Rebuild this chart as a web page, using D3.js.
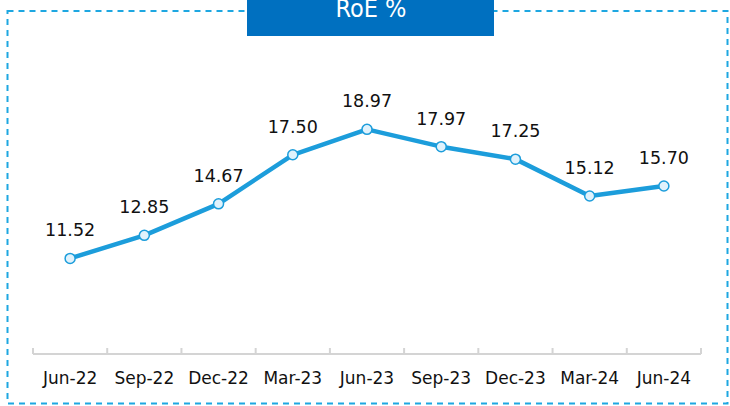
<!DOCTYPE html>
<meta charset="utf-8">
<html>
<head>
	<script src="https://cdn.jsdelivr.net/npm/d3@7"></script>
	<style>
		body { margin: 0; background: #fff; }
		text { font-family: "DejaVu Sans", Verdana, sans-serif; }
	</style>
</head>
<body>
	<svg id="chart" width="730" height="406"></svg>
	<script>
		var quarters = ["Jun-22","Sep-22","Dec-22","Mar-23","Jun-23","Sep-23","Dec-23","Mar-24","Jun-24"];
		var roe = [11.52, 12.85, 14.67, 17.50, 18.97, 17.97, 17.25, 15.12, 15.70];
		var title = "RoE %";

		var svg = d3.select("#chart");

		// dashed frame
		svg.append("rect")
			.attr("x", 7.5).attr("y", 11)
			.attr("width", 720).attr("height", 392.5)
			.attr("fill", "none")
			.attr("stroke", "#1ea7e1")
			.attr("stroke-width", 2)
			.attr("stroke-dasharray", "6,5");

		// title box
		svg.append("rect")
			.attr("x", 247).attr("y", -2)
			.attr("width", 247).attr("height", 38)
			.attr("fill", "#0070c0");
		svg.append("text")
			.attr("x", 371).attr("y", 17)
			.attr("text-anchor", "middle")
			.attr("fill", "#fff")
			.attr("font-size", 25)
			.style("font-family", "'DejaVu Sans Condensed', 'DejaVu Sans', sans-serif")
			.style("font-stretch", "condensed")
			.text(title);

		var x = d3.scaleBand()
			.domain(quarters)
			.range([33, 701]);

		var y = d3.scaleLinear()
			.domain([6, 20])
			.range([354, 111.5]);

		// axis
		var axisY = 354;
		svg.append("line")
			.attr("x1", 33).attr("x2", 701)
			.attr("y1", axisY).attr("y2", axisY)
			.attr("stroke", "#d4d4d4").attr("stroke-width", 2);

		var edges = quarters.map(function(d) { return x(d); }).concat([x.range()[1]]);
		svg.selectAll(".tick")
			.data(edges)
			.enter().append("line")
				.attr("class", "tick")
				.attr("x1", function(d) { return d; })
				.attr("x2", function(d) { return d; })
				.attr("y1", axisY - 6).attr("y2", axisY)
				.attr("stroke", "#d4d4d4").attr("stroke-width", 2);

		svg.selectAll(".xlabel")
			.data(quarters)
			.enter().append("text")
				.attr("class", "xlabel")
				.attr("x", function(d) { return x(d) + x.bandwidth() / 2; })
				.attr("y", 384)
				.attr("text-anchor", "middle")
				.attr("font-size", 17)
				.attr("fill", "#111")
				.text(function(d) { return d; });

		var line = d3.line()
			.x(function(d, i) { return x(quarters[i]) + x.bandwidth() / 2; })
			.y(function(d) { return y(d); });

		svg.append("path")
			.datum(roe)
			.attr("d", line)
			.attr("fill", "none")
			.attr("stroke", "#1c9ddb")
			.attr("stroke-width", 4.5)
			.attr("stroke-linejoin", "round");

		svg.selectAll(".dot")
			.data(roe)
			.enter().append("circle")
				.attr("class", "dot")
				.attr("cx", function(d, i) { return x(quarters[i]) + x.bandwidth() / 2; })
				.attr("cy", function(d) { return y(d); })
				.attr("r", 5)
				.attr("fill", "#e0f2fc")
				.attr("stroke", "#1c9ddb")
				.attr("stroke-width", 1.5);

		svg.selectAll(".vlabel")
			.data(roe)
			.enter().append("text")
				.attr("class", "vlabel")
				.attr("x", function(d, i) { return x(quarters[i]) + x.bandwidth() / 2; })
				.attr("y", function(d) { return y(d) - 22; })
				.attr("text-anchor", "middle")
				.attr("font-size", 17.5)
				.attr("fill", "#111")
				.text(function(d) { return d.toFixed(2); });
	</script>
</body>
</html>
